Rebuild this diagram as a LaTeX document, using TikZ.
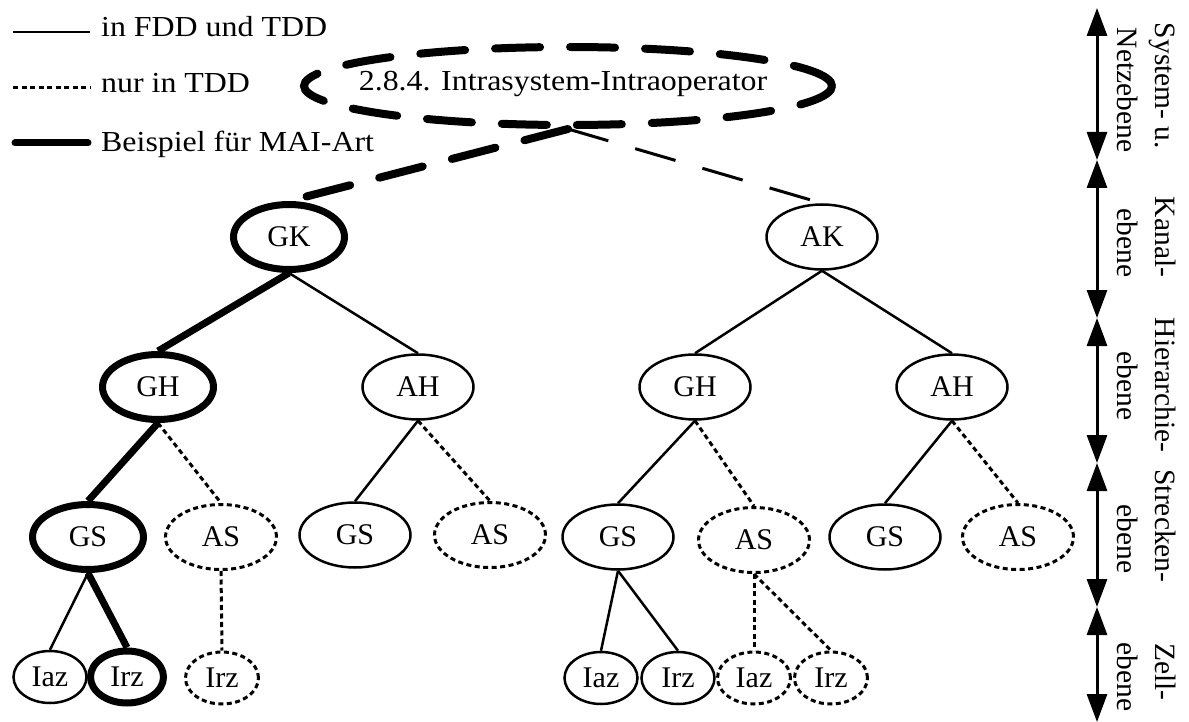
\documentclass[tikz,border=0pt]{standalone}
\usepackage{fontspec}
\setmainfont{Liberation Serif}
\newfontfamily\widefont{Liberation Serif}[FakeStretch=1.1]
\usetikzlibrary{shapes.geometric,arrows.meta}
\begin{document}
\begin{tikzpicture}[x=1pt,y=-1pt,
 every node/.style={font=\widefont\fontsize{29}{34}\selectfont},
 nd/.style={ellipse, draw, line width=2.5pt, minimum width=111pt, minimum height=65pt, inner sep=0pt, font=\rmfamily\fontsize{30}{34}\selectfont},
 sm/.style={nd, minimum width=73pt, minimum height=52pt},
 thk/.style={line width=7pt},
 dot/.style={line width=3pt, dash pattern=on 5pt off 3.5pt},
 thn/.style={line width=2.5pt},
 bigdash/.style={line width=8pt, dash pattern=on 45pt off 30pt, line cap=round},
 thindash/.style={line width=3pt, dash pattern=on 42pt off 28pt},
 lvl/.style={line width=3pt, {Triangle[length=28pt,width=20pt]}-{Triangle[length=28pt,width=20pt]}},
 rot/.style={rotate=-90, anchor=base, inner sep=0pt, font=\rmfamily\fontsize{29.5}{34}\selectfont},
 leg/.style={anchor=base west, inner sep=0pt}
]
\useasboundingbox (0,0) rectangle (1189,722);

% legend
\coordinate (l1a) at (13,32); \coordinate (l1b) at (90,32);
\coordinate (l2a) at (13,88); \coordinate (l2b) at (90,88);
\coordinate (l3a) at (15,143); \coordinate (l3b) at (88,143);
\draw[thn] (l1a) -- (l1b);
\draw[dot] (l2a) -- (l2b);
\draw[thk, line cap=round] (l3a) -- (l3b);
\node[leg] (t1) at (101,37) {in FDD und TDD};
\node[leg] (t2) at (101,93) {nur in TDD};
\node[leg] (t3) at (101,152) {Beispiel für MAI-Art};

% top ellipse
\node[ellipse, draw, bigdash, minimum width=528pt, minimum height=78pt, inner sep=0pt] (top) at (568,86) {};
\node (toptxt) at (563,84) {2.8.4. Intrasystem-Intraoperator};

% tree nodes
\node[nd,thk] (gk) at (289,237) {GK};
\node[nd] (ak) at (822,237) {AK};
\node[nd,thk] (gh1) at (158,387) {GH};
\node[nd] (ah1) at (418,387) {AH};
\node[nd] (gh2) at (695,387) {GH};
\node[nd] (ah2) at (952,387) {AH};
\node[nd,thk] (gs1) at (88,537) {GS};
\node[nd,dot] (as1) at (221,537) {AS};
\node[nd] (gs2) at (355,535) {GS};
\node[nd,dot] (as2) at (490,535) {AS};
\node[nd] (gs3) at (618,537) {GS};
\node[nd,dot] (as3) at (754,540) {AS};
\node[nd] (gs4) at (885,537) {GS};
\node[nd,dot] (as4) at (1018,537) {AS};
\node[sm] (iaz1) at (50,677) {Iaz};
\node[sm,thk] (irz1) at (127,677) {Irz};
\node[sm,dot] (irz2) at (222,678) {Irz};
\node[sm] (iaz3) at (601,678) {Iaz};
\node[sm] (irz3) at (678,678) {Irz};
\node[sm,dot] (iaz4) at (754,678) {Iaz};
\node[sm,dot] (irz4) at (831,678) {Irz};

% connectors
\draw[bigdash] (top.south) -- (gk.north);
\draw[thindash] (top.south) -- (ak.north);
\draw[thk] (gk.south) -- (gh1.north);
\draw[thn] (gk.south) -- (ah1.north);
\draw[thn] (ak.south) -- (gh2.north);
\draw[thn] (ak.south) -- (ah2.north);
\draw[thk] (gh1.south) -- (gs1.north);
\draw[dot] (gh1.south) -- (as1.north);
\draw[thn] (ah1.south) -- (gs2.north);
\draw[dot] (ah1.south) -- (as2.north);
\draw[thn] (gh2.south) -- (gs3.north);
\draw[dot] (gh2.south) -- (as3.north);
\draw[thn] (ah2.south) -- (gs4.north);
\draw[dot] (ah2.south) -- (as4.north);
\draw[thn] (gs1.south) -- (iaz1.north);
\draw[thk] (gs1.south) -- (irz1.north);
\draw[dot] (as1.south) -- (irz2.north);
\draw[thn] (gs3.south) -- (iaz3.north);
\draw[thn] (gs3.south) -- (irz3.north);
\draw[dot] (as3.south) -- (iaz4.north);
\draw[dot] (as3.south) -- (irz4.north);

% level arrows
\coordinate (a0) at (1097,8);
\coordinate (a1) at (1097,160);
\coordinate (a2) at (1097,318);
\coordinate (a3) at (1097,463);
\coordinate (a4) at (1097,607);
\coordinate (a5) at (1097,722);
\draw[lvl] (a0) -- (a1);
\draw[lvl] (a1) -- (a2);
\draw[lvl] (a2) -- (a3);
\draw[lvl] (a3) -- (a4);
\draw[lvl] (a4) -- (a5);

% level labels
\node[rot] (r1a) at (1155,86) {System- u.};
\node[rot] (r1b) at (1117,90) {Netzebene};
\node[rot] (r2a) at (1155,237) {Kanal-};
\node[rot] (r2b) at (1117,243) {ebene};
\node[rot] (r3a) at (1155,385) {Hierarchie-};
\node[rot] (r3b) at (1117,386) {ebene};
\node[rot] (r4a) at (1155,526) {Strecken-};
\node[rot] (r4b) at (1117,539) {ebene};
\node[rot] (r5a) at (1155,672) {Zell-};
\node[rot] (r5b) at (1117,677) {ebene};
\end{tikzpicture}
\end{document}
